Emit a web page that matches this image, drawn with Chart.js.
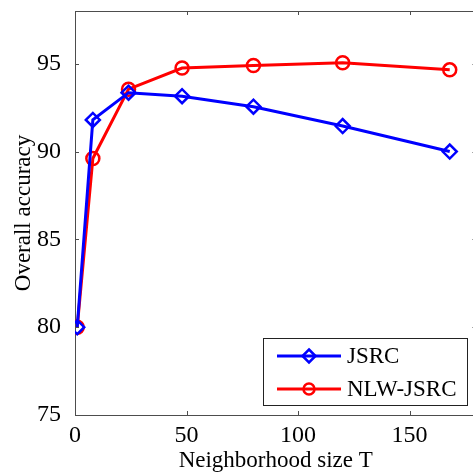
<!DOCTYPE html>
<html>
<head>
<meta charset="utf-8">
<script src="https://cdn.jsdelivr.net/npm/chart.js@4.4.1/dist/chart.umd.min.js"></script>
<style>
  html, body { margin: 0; padding: 0; background: #fff; overflow: hidden; }
  #wrap { width: 486px; height: 475px; }
</style>
</head>
<body>
<div id="wrap"><canvas id="accChart" width="486" height="475"></canvas></div>
<script>
// neighborhood sizes T
const sizes = [1, 8, 24, 48, 80, 120, 168];
const jsrc = [80.0, 91.8, 93.35, 93.15, 92.55, 91.45, 90.0];
const nlwJsrc = [80.0, 89.6, 93.55, 94.75, 94.9, 95.05, 94.65];
const xTicks = [0, 50, 100, 150];
const yTicks = [75, 80, 85, 90, 95];

const serif = "'Liberation Serif', 'Times New Roman', serif";
const axisColor = "#4d4d4d";

// MATLAB style: inward ticks on all sides, top border, boxed legend
const matlabBox = {
    id: "matlabBox",
    afterDraw(chart) {
        const ctx = chart.ctx;
        const area = chart.chartArea;
        const xs = chart.scales.x, ys = chart.scales.y;
        ctx.save();
        ctx.strokeStyle = axisColor;
        ctx.lineWidth = 1;
        ctx.beginPath();
        ctx.moveTo(area.left, area.top + 0.5);
        ctx.lineTo(area.right, area.top + 0.5);
        ctx.moveTo(area.right - 0.5, area.top);
        ctx.lineTo(area.right - 0.5, area.bottom);
        xTicks.forEach(v => {
            const px = Math.round(xs.getPixelForValue(v)) + 0.5;
            ctx.moveTo(px, area.bottom); ctx.lineTo(px, area.bottom - 4);
            ctx.moveTo(px, area.top); ctx.lineTo(px, area.top + 4);
        });
        yTicks.forEach(v => {
            const py = Math.round(ys.getPixelForValue(v)) + 0.5;
            ctx.moveTo(area.left, py); ctx.lineTo(area.left + 4, py);
            ctx.moveTo(area.right, py); ctx.lineTo(area.right - 4, py);
        });
        ctx.stroke();

        // legend box
        const bx = 263.5, by = 338.5, bw = 204, bh = 67;
        ctx.fillStyle = "#fff";
        ctx.fillRect(bx, by, bw, bh);
        ctx.strokeStyle = "#222";
        ctx.strokeRect(bx, by, bw, bh);
        const rows = [
            { ds: chart.data.datasets[0], y: 356 },
            { ds: chart.data.datasets[1], y: 389 }
        ];
        rows.forEach(r => {
            ctx.strokeStyle = r.ds.borderColor;
            ctx.lineWidth = 3;
            ctx.beginPath();
            ctx.moveTo(277, r.y); ctx.lineTo(341, r.y);
            ctx.stroke();
            ctx.lineWidth = 2.5;
            ctx.beginPath();
            if (r.ds.pointStyle === "rectRot") {
                ctx.moveTo(309, r.y - 6.5); ctx.lineTo(315.5, r.y);
                ctx.lineTo(309, r.y + 6.5); ctx.lineTo(302.5, r.y);
                ctx.closePath();
            } else {
                ctx.arc(309, r.y, 5.5, 0, Math.PI * 2);
            }
            ctx.stroke();
            ctx.fillStyle = "#000";
            ctx.font = "23px " + serif;
            ctx.textBaseline = "middle";
            ctx.fillText(r.ds.label, 347, r.y + 1);
        });
        ctx.restore();
    }
};

const ctx = document.getElementById("accChart").getContext("2d");
new Chart(ctx, {
    type: "line",
    data: {
        datasets: [{
            label: "JSRC",
            data: sizes.map((t, i) => ({ x: t, y: jsrc[i] })),
            borderColor: "#0000ff",
            backgroundColor: "transparent",
            borderWidth: 3,
            pointStyle: "rectRot",
            pointRadius: 7,
            pointBorderWidth: 2.5,
            pointBackgroundColor: "transparent",
            tension: 0
        }, {
            label: "NLW-JSRC",
            data: sizes.map((t, i) => ({ x: t, y: nlwJsrc[i] })),
            borderColor: "#ff0000",
            backgroundColor: "transparent",
            borderWidth: 3,
            pointStyle: "circle",
            pointRadius: 6.5,
            pointBorderWidth: 2.5,
            pointBackgroundColor: "transparent",
            tension: 0
        }]
    },
    options: {
        responsive: false,
        animation: false,
        layout: { padding: { left: 0, top: 11, right: 4, bottom: 0 } },
        plugins: {
            legend: { display: false },
            tooltip: { enabled: false }
        },
        scales: {
            x: {
                type: "linear",
                min: 0,
                max: 180,
                afterBuildTicks: s => { s.ticks = xTicks.map(v => ({ value: v })); },
                afterFit: s => { s.height = 60; s.paddingLeft = 0; s.paddingRight = 0; },
                grid: { display: false },
                border: { display: true, color: axisColor, width: 1 },
                ticks: { color: "#000", font: { family: serif, size: 24 }, padding: -2 },
                title: {
                    display: true,
                    text: "Neighborhood size T",
                    color: "#000",
                    font: { family: serif, size: 23 },
                    padding: { top: 0, bottom: 0 }
                }
            },
            y: {
                min: 75,
                max: 98,
                afterBuildTicks: s => { s.ticks = yTicks.map(v => ({ value: v })); },
                afterFit: s => { s.width = 75; s.paddingTop = 0; s.paddingBottom = 0; },
                grid: { display: false },
                border: { display: true, color: axisColor, width: 1 },
                ticks: { color: "#000", font: { family: serif, size: 24 }, padding: 6 },
                title: {
                    display: true,
                    text: "Overall accuracy",
                    color: "#000",
                    font: { family: serif, size: 23 },
                    padding: { top: 10, bottom: 0 }
                }
            }
        }
    },
    plugins: [matlabBox]
});
</script>
</body>
</html>
